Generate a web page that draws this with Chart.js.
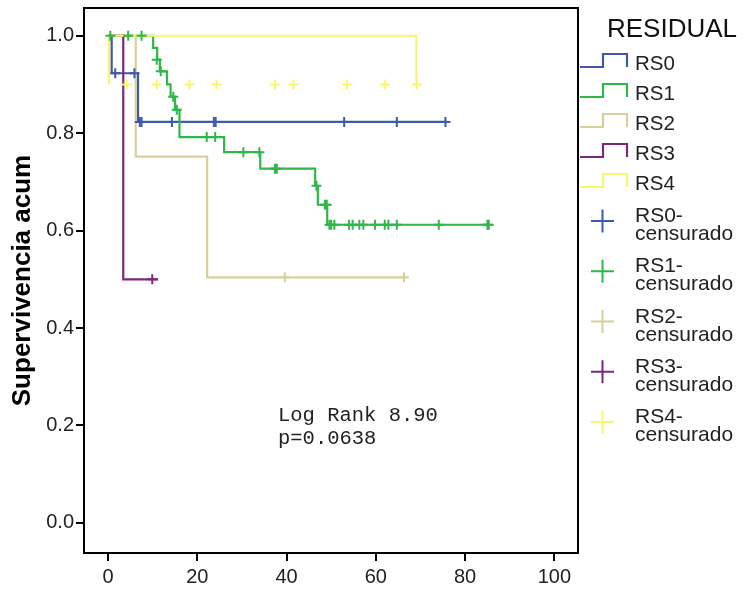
<!DOCTYPE html>
<html>
<head>
<meta charset="utf-8">
<script src="https://cdn.jsdelivr.net/npm/chart.js@4.4.1/dist/chart.umd.min.js"></script>
<style>
html,body{margin:0;padding:0;background:#fff;}
canvas{display:block;}
</style>
</head>
<body>
<canvas id="c" width="743" height="589"></canvas>
<script>
// ---- data ----
const groupNames = ['RS0', 'RS1', 'RS2', 'RS3', 'RS4'];
const censorSuffix = 'censurado';
const legendTitle = 'RESIDUAL';
const yAxisTitle = 'Supervivencia acum';
const statLines = ['Log Rank 8.90', 'p=0.0638'];
const xTickValues = [0, 20, 40, 60, 80, 100];
const yTickValues = [0, 0.2, 0.4, 0.6, 0.8, 1.0];

// step curves (time, cumulative survival)
const rs0Time = [0, 0.8, 6.7, 76.0];
const rs0Surv = [1.0, 0.923, 0.823, 0.823];
const rs1Time = [0, 10.1, 11.0, 11.6, 13.2, 14.0, 15.0, 16.0, 26.0, 34.1, 46.4, 47.0, 49.1, 85.6];
const rs1Surv = [1.0, 0.975, 0.951, 0.927, 0.900, 0.875, 0.848, 0.792, 0.761, 0.727, 0.692, 0.653, 0.612, 0.612];
const rs2Time = [0, 6.2, 22.2, 66.7];
const rs2Surv = [1.0, 0.752, 0.504, 0.504];
const rs3Time = [0, 3.4, 11.2];
const rs3Surv = [1.0, 0.5, 0.5];
const rs4Time = [0.2, 0.2, 69.1, 69.1];
const rs4Surv = [0.9, 1.0, 1.0, 0.9];

// censored observations (time, survival level)
const rs0CensTime = [1.6, 5.9, 7.1, 7.5, 14.3, 23.7, 24.1, 52.9, 64.7, 75.6];
const rs0CensSurv = [0.923, 0.923, 0.823, 0.823, 0.823, 0.823, 0.823, 0.823, 0.823, 0.823];
const rs1CensTime = [0.5, 4.5, 7.5, 10.9, 11.8, 14.6, 15.4, 22.1, 24.0, 30.3, 33.9, 37.4, 37.8, 46.7, 48.6, 49.0, 49.6, 50.0, 50.7, 54.0, 54.8, 56.3, 57.2, 59.8, 62.0, 62.8, 64.7, 74.1, 85.0, 85.3];
const rs1CensSurv = [1.0, 1.0, 1.0, 0.951, 0.927, 0.875, 0.848, 0.792, 0.792, 0.761, 0.761, 0.727, 0.727, 0.692, 0.653, 0.653, 0.612, 0.612, 0.612, 0.612, 0.612, 0.612, 0.612, 0.612, 0.612, 0.612, 0.612, 0.612, 0.612, 0.612];
const rs2CensTime = [39.6, 66.3];
const rs2CensSurv = [0.504, 0.504];
const rs3CensTime = [9.9];
const rs3CensSurv = [0.5];
const rs4CensTime = [4.2, 10.9, 18.2, 24.3, 37.4, 41.5, 53.5, 62.1, 69.2];
const rs4CensSurv = [0.9, 0.9, 0.9, 0.9, 0.9, 0.9, 0.9, 0.9, 0.9];

const groupColors = ['#3e58ac', '#2eb848', '#d6d19c', '#7c287d', '#fbf56e'];

// ---- build datasets ----
const pts = (t, s) => t.map((v, i) => ({x: v, y: s[i]}));
const curves = [[rs0Time, rs0Surv], [rs1Time, rs1Surv], [rs2Time, rs2Surv], [rs3Time, rs3Surv], [rs4Time, rs4Surv]];
const cens = [[rs0CensTime, rs0CensSurv], [rs1CensTime, rs1CensSurv], [rs2CensTime, rs2CensSurv], [rs3CensTime, rs3CensSurv], [rs4CensTime, rs4CensSurv]];

const datasets = [];
curves.forEach((c, i) => {
  datasets.push({
    label: groupNames[i],
    data: pts(c[0], c[1]),
    showLine: true,
    stepped: 'before',
    borderColor: groupColors[i],
    backgroundColor: groupColors[i],
    borderWidth: 2.2,
    pointRadius: 0,
    fill: false,
    order: 10 - i
  });
});
cens.forEach((c, i) => {
  datasets.push({
    label: groupNames[i] + '-' + censorSuffix,
    data: pts(c[0], c[1]),
    showLine: false,
    pointStyle: 'cross',
    pointRadius: 5,
    pointBorderWidth: 2,
    borderColor: groupColors[i],
    backgroundColor: groupColors[i],
    order: 5 - i
  });
});

const FONT = "'Liberation Sans', Arial, sans-serif";

const zeroPad = s => { s.paddingTop = 0; s.paddingBottom = 0; s.paddingLeft = 0; s.paddingRight = 0; };

const extras = {
  id: 'extras',
  afterDraw(chart) {
    const ctx = chart.ctx;
    const a = chart.chartArea;
    ctx.save();
    // frame
    ctx.strokeStyle = '#000';
    ctx.lineWidth = 2;
    ctx.strokeRect(a.left, a.top, a.right - a.left, a.bottom - a.top);

    // statistics text
    ctx.fillStyle = '#222';
    ctx.font = "20.5px 'Liberation Mono', 'Courier New', monospace";
    ctx.textBaseline = 'alphabetic';
    ctx.textAlign = 'left';
    statLines.forEach((s, i) => ctx.fillText(s, 278, 421 + i * 23));

    // legend
    ctx.fillStyle = '#111';
    ctx.font = '26px ' + FONT;
    ctx.fillText(legendTitle, 607, 37);
    ctx.font = '20.5px ' + FONT;
    groupNames.forEach((g, i) => {
      const lo = 67 + 30 * i, hi = 54 + 30 * i;
      ctx.strokeStyle = groupColors[i];
      ctx.lineWidth = 2.2;
      ctx.beginPath();
      ctx.moveTo(580, lo);
      ctx.lineTo(603, lo);
      ctx.lineTo(603, hi);
      ctx.lineTo(627, hi);
      ctx.lineTo(627, lo);
      ctx.stroke();
      ctx.fillStyle = '#222';
      ctx.fillText(g, 635, 70 + 30 * i);
    });
    ctx.font = '21px ' + FONT;
    groupNames.forEach((g, i) => {
      const cy = 221 + 50.25 * i;
      ctx.strokeStyle = groupColors[i];
      ctx.lineWidth = 2;
      ctx.beginPath();
      ctx.moveTo(591, cy); ctx.lineTo(614, cy);
      ctx.moveTo(602.5, cy - 11.5); ctx.lineTo(602.5, cy + 11.5);
      ctx.stroke();
      ctx.fillStyle = '#222';
      ctx.fillText(g + '-', 635, cy + 1);
      ctx.fillText(censorSuffix, 635, cy + 19);
    });
    ctx.restore();
  }
};

new Chart(document.getElementById('c'), {
  type: 'scatter',
  data: {datasets},
  options: {
    responsive: false,
    animation: false,
    layout: {padding: {left: 0, right: 165, top: 8, bottom: 0}},
    plugins: {legend: {display: false}, tooltip: {enabled: false}},
    scales: {
      x: {
        type: 'linear',
        min: -5.4,
        max: 105.3,
        afterBuildTicks: s => { s.ticks = xTickValues.map(v => ({value: v})); },
        afterFit: s => { s.height = 36; zeroPad(s); },
        ticks: {color: '#222', font: {family: FONT, size: 20}, padding: 4, callback: v => String(v)},
        grid: {drawOnChartArea: false, drawTicks: true, tickLength: 8, color: '#000', lineWidth: 2},
        border: {display: true, color: '#000', width: 2}
      },
      y: {
        type: 'linear',
        min: -0.062,
        max: 1.057,
        afterBuildTicks: s => { s.ticks = yTickValues.map(v => ({value: v})); },
        afterFit: s => { s.width = 84; zeroPad(s); },
        ticks: {color: '#222', font: {family: FONT, size: 20}, padding: 2, callback: v => v.toFixed(1)},
        grid: {drawOnChartArea: false, drawTicks: true, tickLength: 8, color: '#000', lineWidth: 2},
        border: {display: true, color: '#000', width: 2},
        title: {display: true, text: yAxisTitle, color: '#000', font: {family: FONT, size: 26, weight: 'bold'}, padding: {top: 7, bottom: 0}}
      }
    }
  },
  plugins: [extras]
});
</script>
</body>
</html>
